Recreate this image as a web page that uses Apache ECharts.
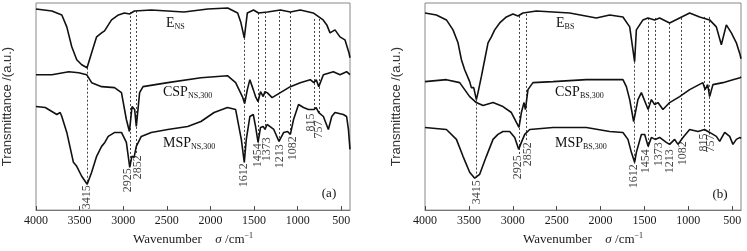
<!DOCTYPE html>
<html>
<head>
<meta charset="utf-8">
<title>FTIR spectra</title>
<script src="https://cdn.jsdelivr.net/npm/echarts@6/dist/echarts.min.js"></script>
<style>
  html, body { margin: 0; padding: 0; background: #fff; }
  #chart { width: 747px; height: 251px; }
</style>
</head>
<body>
<div id="chart"></div>
<script>
// spectra as [wavenumber (cm-1), transmittance (a.u., offset)]
const eNS = [[4000,202],[3818,200],[3704,196],[3647,184],[3590,164],[3533,151],[3476,146],[3415,143],[3362,158],[3305,174],[3248,178],[3214,180],[3134,191],[3055,196],[2986,198],[2925,197],[2872,200],[2679,201],[2303,199],[2030,202],[1802,203],[1688,198],[1653,189],[1612,173],[1577,198],[1506,201],[1449,198],[1346,199],[1198,201],[1084,199],[970,201],[822,198],[708,191],[666,186],[629,178],[572,181],[515,174],[458,171],[412,158],[400,153]]
const cspNS = [[4000,136],[3818,136],[3624,139],[3510,138],[3419,136],[3362,128],[3248,124],[3100,123],[3020,118],[2964,91],[2929,79],[2899,104],[2869,101],[2850,84],[2812,118],[2773,124],[2489,128],[2109,133],[1805,135],[1711,128],[1634,114],[1608,107],[1577,121],[1548,131],[1509,121],[1483,114],[1454,109],[1426,119],[1395,114],[1375,119],[1350,118],[1293,113],[1198,118],[1084,124],[970,128],[856,131],[815,128],[787,131],[758,124],[705,136],[591,139],[515,136],[439,139],[400,136]]
const mspNS = [[4000,104],[3894,103],[3761,96],[3723,98],[3704,94],[3647,78],[3571,48],[3533,44],[3476,34],[3413,26],[3362,38],[3305,54],[3248,64],[3211,68],[3172,74],[3097,78],[3020,78],[2964,68],[2925,43],[2901,54],[2876,53],[2850,64],[2793,74],[2679,78],[2489,81],[2261,84],[2109,89],[1958,98],[1805,103],[1711,101],[1646,71],[1612,48],[1589,71],[1548,94],[1509,96],[1483,84],[1454,68],[1426,83],[1395,84],[1375,81],[1350,86],[1274,81],[1214,69],[1160,78],[1115,79],[1084,76],[1047,91],[990,106],[933,103],[876,101],[815,101],[788,103],[758,98],[705,94],[648,81],[609,94],[572,98],[477,96],[439,94],[418,81],[400,61]]

const eBS = [[4000,198],[3870,196],[3756,191],[3681,181],[3624,168],[3585,151],[3548,141],[3528,139],[3491,129],[3472,123],[3445,123],[3415,111],[3396,118],[3358,134],[3320,151],[3282,168],[3244,174],[3206,181],[3149,188],[3073,194],[2998,197],[2941,195],[2884,198],[2731,200],[2352,198],[2048,193],[1896,196],[1745,194],[1668,184],[1612,149],[1592,181],[1517,191],[1460,193],[1384,191],[1327,193],[1213,188],[1099,193],[985,198],[871,194],[757,191],[681,184],[624,166],[567,186],[510,178],[453,168],[410,156],[400,152]]
const cspBS = [[4000,129],[3756,131],[3605,128],[3491,114],[3415,108],[3339,105],[3225,108],[3112,104],[3016,98],[2959,88],[2929,83],[2902,98],[2872,108],[2856,101],[2827,121],[2770,128],[2542,129],[2162,131],[1745,131],[1706,124],[1668,111],[1623,89],[1574,111],[1535,118],[1458,101],[1421,111],[1384,106],[1346,108],[1289,101],[1213,108],[1099,114],[985,121],[834,128],[809,121],[780,126],[757,114],[720,126],[606,128],[492,131],[410,133],[400,134]]
const mspBS = [[4000,83],[3756,81],[3642,71],[3567,54],[3491,38],[3434,32],[3377,36],[3301,54],[3225,71],[3169,76],[3112,79],[3035,79],[2978,73],[2933,61],[2902,68],[2864,76],[2807,81],[2542,83],[2162,83],[1896,79],[1745,78],[1688,71],[1649,58],[1612,48],[1592,58],[1535,76],[1497,76],[1458,64],[1421,73],[1378,71],[1327,73],[1251,68],[1213,66],[1156,71],[1118,66],[1061,73],[985,81],[890,79],[815,81],[757,78],[681,74],[643,69],[586,78],[529,74],[492,66],[453,71],[410,73],[400,72]]

// marked bands and their dashed guides
const peaks = [3415, 2925, 2852, 1612, 1454, 1373, 1213, 1082, 815, 757]
const guideTopA = [143, 199, 200, 173, 198, 199, 199, 199, 192, 192]
const guideBottomA = [26, 43, 56, 48, 68, 81, 69, 76, 101, 98]
const labelXA = [3420, 2944, 2830, 1619, 1460, 1357, 1209, 1061, 845, 754]
const labelYA = [13, 30, 43, 35, 55, 61, 54, 62, 88, 81]

const guideTopB = [111, 195, 197, 149, 193, 193, 188, 193, 194, 194]
const guideBottomB = [31, 56, 70, 46, 63, 69, 63, 69, 78, 76]
const labelXB = [3415, 2944, 2825, 1623, 1486, 1338, 1213, 1065, 826, 746]
const labelYB = [18, 43, 56, 34, 49, 56, 49, 57, 68, 67]

const xTicks = [4000, 3500, 3000, 2500, 2000, 1500, 1000, 500]

const SERIF = '"Liberation Serif", "DejaVu Serif", serif'
const SANS = '"Liberation Sans", Arial, sans-serif'
const INK = '#111'

function xAxisFor(i) {
  return {
    gridIndex: i,
    type: 'value',
    inverse: true,
    min: 400,
    max: 4000,
    axisLine: { show: true, lineStyle: { color: '#777', width: 1 } },
    axisTick: { show: true, inside: true, length: 4, customValues: xTicks, lineStyle: { color: '#444' } },
    axisLabel: {
      customValues: xTicks,
      formatter: v => String(v),
      fontFamily: SERIF,
      fontSize: 12,
      color: '#1a1a1a',
      margin: 5,
    },
    splitLine: { show: false },
    name: '{a|Wavenumber}    {i|σ} {a|/cm}{p|−1}',
    nameLocation: 'middle',
    nameGap: 21,
    nameTextStyle: {
      rich: {
        a: { fontFamily: SERIF, fontSize: 13, color: '#1a1a1a', lineHeight: 15 },
        i: { fontFamily: SERIF, fontSize: 13, fontStyle: 'italic', color: '#1a1a1a', lineHeight: 15 },
        p: { fontFamily: SERIF, fontSize: 8, color: '#1a1a1a', lineHeight: 8, verticalAlign: 'top' },
      },
    },
  }
}

function yAxisFor(i) {
  return {
    gridIndex: i,
    type: 'value',
    min: 0,
    max: 208,
    axisLine: { show: false },
    axisTick: { show: false },
    axisLabel: { show: false },
    splitLine: { show: false },
    name: 'Transmittance /(a.u.)',
    nameLocation: 'middle',
    nameGap: 22,
    nameRotate: 90,
    nameTextStyle: { fontFamily: SANS, fontSize: 13, color: '#333' },
  }
}

function panelSeries(i, curves, tops, bottoms, labelX, labelY) {
  const out = curves.map(c => ({
    type: 'line',
    xAxisIndex: i,
    yAxisIndex: i,
    data: c,
    showSymbol: false,
    symbol: 'none',
    lineStyle: { color: INK, width: 1.6 },
    silent: true,
    z: 3,
  }))
  out.push({
    type: 'lines',
    coordinateSystem: 'cartesian2d',
    xAxisIndex: i,
    yAxisIndex: i,
    data: peaks.map((p, k) => ({ coords: [[p, tops[k]], [p, bottoms[k]]] })),
    lineStyle: { color: '#444', width: 1, type: [2, 2], opacity: 1 },
    silent: true,
    z: 2,
  })
  out.push({
    type: 'scatter',
    xAxisIndex: i,
    yAxisIndex: i,
    symbolSize: 1,
    itemStyle: { color: 'transparent' },
    data: peaks.map((p, k) => [labelX[k], labelY[k], String(p)]),
    label: {
      show: true,
      position: 'inside',
      rotate: 90,
      formatter: d => d.value[2],
      fontFamily: SERIF,
      fontSize: 12,
      color: INK,
    },
    silent: true,
    z: 4,
  })
  return out
}

function curveName(x, y, main, sub) {
  return {
    type: 'text',
    x, y,
    silent: true,
    style: {
      text: `{m|${main}}{s|${sub}}`,
      verticalAlign: 'middle',
      rich: {
        m: { fontFamily: SERIF, fontSize: 14, lineHeight: 16, fill: INK },
        s: { fontFamily: SERIF, fontSize: 8, lineHeight: 8, verticalAlign: 'bottom', fill: INK },
      },
    },
  }
}

function tag(x, y, text) {
  return {
    type: 'text',
    x, y,
    silent: true,
    style: { text, fontFamily: SERIF, fontSize: 13, fill: INK, align: 'center', verticalAlign: 'middle' },
  }
}

const gridBase = { top: 3, width: 316, height: 208, show: true, borderColor: '#888', borderWidth: 1, backgroundColor: 'transparent' }

const option = {
  animation: false,
  grid: [
    { ...gridBase, left: 34 },
    { ...gridBase, left: 425 },
  ],
  xAxis: [xAxisFor(0), xAxisFor(1)],
  yAxis: [yAxisFor(0), yAxisFor(1)],
  series: [
    ...panelSeries(0, [eNS, cspNS, mspNS], guideTopA, guideBottomA, labelXA, labelYA),
    ...panelSeries(1, [eBS, cspBS, mspBS], guideTopB, guideBottomB, labelXB, labelYB),
  ],
  graphic: [
    curveName(166, 23, 'E', 'NS'),
    curveName(163, 92, 'CSP', 'NS,300'),
    curveName(163, 143, 'MSP', 'NS,300'),
    curveName(556, 23, 'E', 'BS'),
    curveName(555, 92, 'CSP', 'BS,300'),
    curveName(555, 143, 'MSP', 'BS,300'),
    tag(329, 194, '(a)'),
    tag(720, 195, '(b)'),
  ],
}

const chart = echarts.init(document.getElementById('chart'))
chart.setOption(option)
</script>
</body>
</html>
